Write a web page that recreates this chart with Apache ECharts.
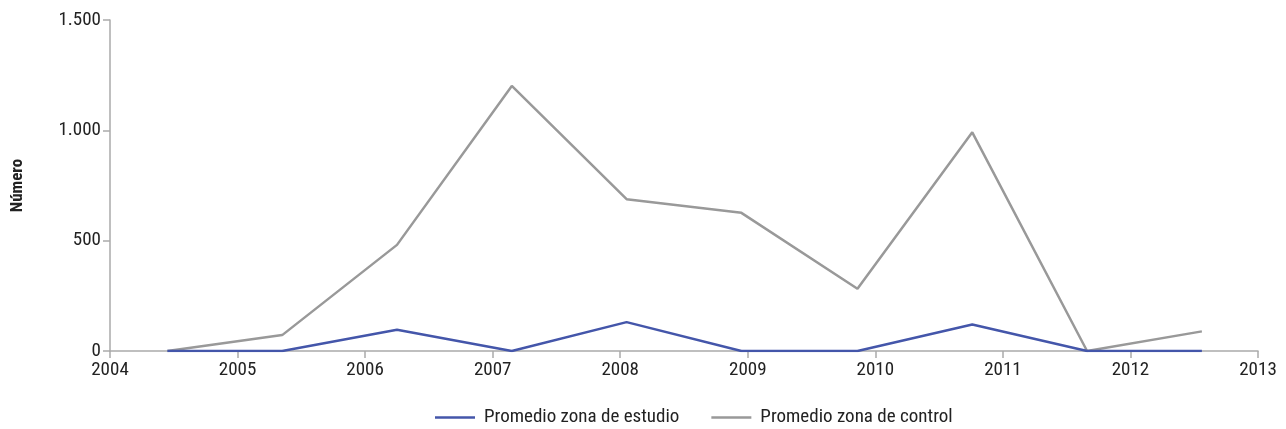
<!DOCTYPE html>
<html>
<head>
<meta charset="utf-8">
<script src="https://cdn.jsdelivr.net/npm/echarts@6/dist/echarts.min.js"></script>
<style>html,body{margin:0;padding:0;background:#fff}#c{width:1286px;height:429px}</style>
</head>
<body>
<div id="c"></div>
<script>
const xValues = [2004.45, 2005.35, 2006.25, 2007.15, 2008.05, 2008.95, 2009.86, 2010.76, 2011.66, 2012.56];
const estudio = [0, 0, 96, 0, 131, 0, 0, 120, 0, 0];
const control = [0, 72, 481, 1201, 688, 626, 282, 991, 0, 89];
const seriesNames = ['Promedio zona de estudio', 'Promedio zona de control'];

const font = '"Roboto Condensed", "DejaVu Sans Condensed", sans-serif';
const chart = echarts.init(document.getElementById('c'), null, {renderer: 'canvas'});
const pair = arr => arr.map((v, i) => [xValues[i], v]);
chart.setOption({
  animation: false,
  textStyle: {fontFamily: font},
  grid: {left: 110, right: 28, top: 20, bottom: 78, containLabel: false, outerBoundsMode: 'none'},
  legend: {
    top: 403, left: 430,
    itemWidth: 40, itemHeight: 2.5, itemGap: 32,
    icon: 'rect',
    textStyle: {fontFamily: font, fontSize: 19, color: '#222', padding: [0, 0, 0, 4]},
    data: seriesNames
  },
  xAxis: {
    type: 'value', min: 2004, max: 2013, interval: 1,
    axisLine: {show: true, lineStyle: {color: '#aaaaaa', width: 1.5}},
    axisTick: {show: true, length: 7, lineStyle: {color: '#aaaaaa', width: 1.5}},
    splitLine: {show: false},
    axisLabel: {fontFamily: font, fontSize: 19, color: '#222', margin: 10, formatter: v => String(v)}
  },
  yAxis: {
    type: 'value', min: 0, max: 1500, interval: 500,
    name: 'Número', nameLocation: 'middle', nameGap: 84, nameRotate: 90,
    nameTextStyle: {fontFamily: font, fontSize: 17, fontWeight: 'bold', color: '#222'},
    axisLine: {show: true, lineStyle: {color: '#aaaaaa', width: 1.5}},
    axisTick: {show: true, length: 7, lineStyle: {color: '#aaaaaa', width: 1.5}},
    splitLine: {show: false},
    axisLabel: {fontFamily: font, fontSize: 19, color: '#222', margin: 9,
      formatter: v => v.toLocaleString('en-US').replace(/,/g, '.')}
  },
  series: [
    {name: seriesNames[0], type: 'line', data: pair(estudio), showSymbol: false, symbol: 'none',
     lineStyle: {color: '#4456aa', width: 2.5}, itemStyle: {color: '#4456aa'}, z: 3},
    {name: seriesNames[1], type: 'line', data: pair(control), showSymbol: false, symbol: 'none',
     lineStyle: {color: '#999999', width: 2.5}, itemStyle: {color: '#999999'}, z: 2}
  ]
});
</script>
</body>
</html>
